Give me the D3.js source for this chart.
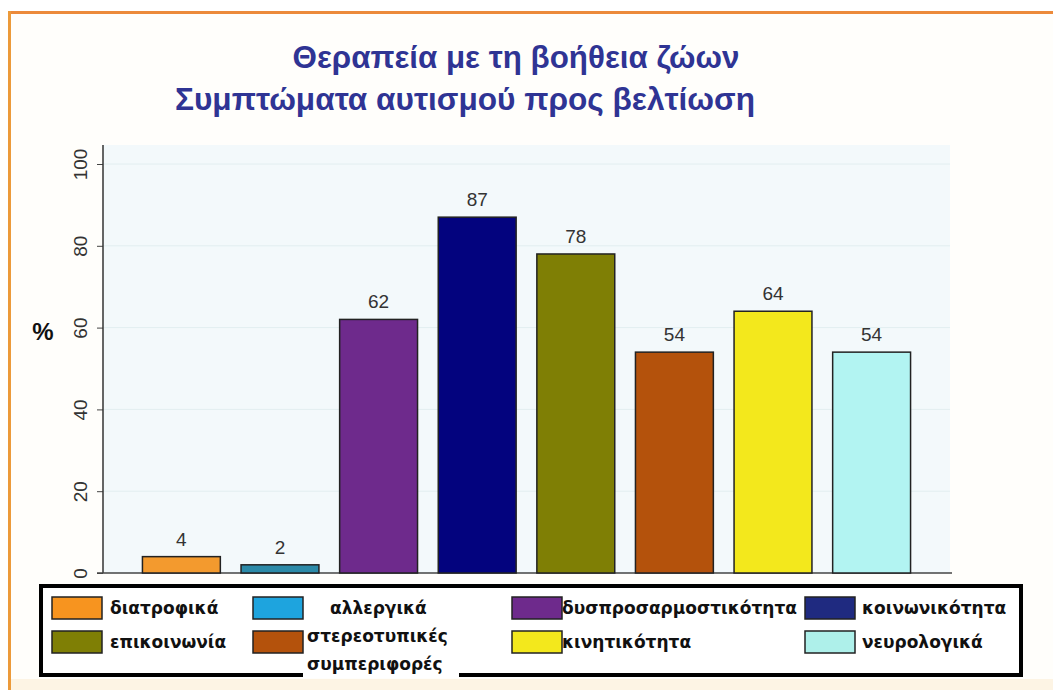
<!DOCTYPE html>
<html>
<head>
<meta charset="utf-8">
<script src="https://cdn.jsdelivr.net/npm/d3@7"></script>
<style>
  body { margin: 0; background: #fff; }
  svg { display: block; }
</style>
</head>
<body>
<div id="chart"></div>
<script>
// data
const categories = ["διατροφικά", "αλλεργικά", "δυσπροσαρμοστικότητα", "κοινωνικότητα",
                    "επικοινωνία", "στερεοτυπικές συμπεριφορές", "κινητικότητα", "νευρολογικά"];
const values = [4, 2, 62, 87, 78, 54, 64, 54];
const barColors = ["#f39a2e", "#2c8aa8", "#6e2a8c", "#03037e", "#7f7f05", "#b4520c", "#f3e81c", "#b2f4f2"];
const legendColors = ["#f7941f", "#1ea4de", "#6e2a8c", "#1f2a80", "#7f7f05", "#b4520c", "#f3e81c", "#aef0ea"];
const yTicks = [0, 20, 40, 60, 80, 100];
const titleLines = ["Θεραπεία με τη βοήθεια ζώων", "Συμπτώματα αυτισμού προς βελτίωση"];

function drawChart() {
    const width = 1053;
    const height = 690;
    const plot = { left: 103, right: 950, top: 145, bottom: 573 };

    const svg = d3.select('#chart')
        .append('svg')
        .attr('width', width)
        .attr('height', height);

    // page frame: orange border top and left, cream strip at the bottom
    svg.append("rect").attr("x", 0).attr("y", 0).attr("width", width).attr("height", height).style("fill", "#fff");
    svg.append("rect").attr("x", 11).attr("y", 13).attr("width", width - 11).attr("height", height - 13).style("fill", "#fffefb");
    svg.append("rect").attr("x", 11).attr("y", 679).attr("width", width - 11).attr("height", 11).style("fill", "#fdf4e4");
    svg.append("rect").attr("x", 8).attr("y", 11).attr("width", width - 8).attr("height", 3).style("fill", "#ec8a3a");
    svg.append("rect").attr("x", 8).attr("y", 11).attr("width", 3).attr("height", height - 11).style("fill", "#ec9a3a");

    // titles (condensed look squeezed to the widths in the picture)
    const titleX = [516, 465];
    const titleY = [68, 110];
    const titleW = [447, 580];
    svg.selectAll(".title")
        .data(titleLines)
        .enter().append("text")
        .attr("class", "title")
        .attr("x", (d, i) => titleX[i])
        .attr("y", (d, i) => titleY[i])
        .attr("text-anchor", "middle")
        .attr("textLength", (d, i) => titleW[i])
        .attr("lengthAdjust", "spacingAndGlyphs")
        .style("font-family", "'Liberation Sans Narrow', 'Liberation Sans', Arial, sans-serif")
        .style("font-weight", "bold")
        .style("font-size", "31px")
        .style("fill", "#2f3494")
        .text(d => d);

    const x = d3.scaleBand()
        .domain(categories)
        .range([plot.left, plot.right])
        .paddingInner(0.21)
        .paddingOuter(0.4);

    const y = d3.scaleLinear()
        .domain([0, 100])
        .range([plot.bottom, 164]);

    // plot background
    svg.append("rect")
        .attr("x", plot.left)
        .attr("y", plot.top)
        .attr("width", plot.right - plot.left)
        .attr("height", plot.bottom - plot.top)
        .style("fill", "#f3f9fb");

    // gridlines
    svg.selectAll(".grid")
        .data(yTicks.filter(d => d > 0))
        .enter().append("line")
        .attr("class", "grid")
        .attr("x1", plot.left).attr("x2", plot.right)
        .attr("y1", d => y(d)).attr("y2", d => y(d))
        .style("stroke", "#e2eef0")
        .style("stroke-width", "1px");

    // y axis
    const yAxis = svg.append("g")
        .attr("transform", `translate(${plot.left},0)`)
        .call(d3.axisLeft(y).tickValues(yTicks).tickSize(6).tickSizeOuter(0));
    yAxis.select(".domain").remove();
    yAxis.selectAll(".tick line").style("stroke", "#444");
    yAxis.selectAll(".tick text")
        .attr("x", 0).attr("dy", 0)
        .attr("transform", `translate(-16,0) rotate(-90)`)
        .attr("text-anchor", "middle")
        .style("font-family", "'Liberation Sans', Arial, sans-serif")
        .style("font-size", "19px")
        .style("fill", "#333");
    svg.append("line")
        .attr("x1", plot.left).attr("x2", plot.left)
        .attr("y1", plot.top).attr("y2", plot.bottom)
        .style("stroke", "#333").style("stroke-width", "1.5px");
    svg.append("line")
        .attr("x1", plot.left - 6).attr("x2", plot.right + 2)
        .attr("y1", plot.bottom).attr("y2", plot.bottom)
        .style("stroke", "#444").style("stroke-width", "1.5px");

    svg.append("text")
        .attr("x", 43).attr("y", 340)
        .attr("text-anchor", "middle")
        .style("font-family", "'Liberation Sans', Arial, sans-serif")
        .style("font-weight", "bold")
        .style("font-size", "24px")
        .style("fill", "#111")
        .text("%");

    // bars
    const data = categories.map((c, i) => ({ name: c, value: values[i], color: barColors[i] }));
    svg.selectAll(".bar")
        .data(data)
        .enter().append("rect")
        .attr("class", "bar")
        .attr("x", d => x(d.name))
        .attr("y", d => y(d.value))
        .attr("width", x.bandwidth())
        .attr("height", d => y(0) - y(d.value))
        .style("fill", d => d.color)
        .style("stroke", "#222")
        .style("stroke-width", "1.5px");

    svg.selectAll(".value")
        .data(data)
        .enter().append("text")
        .attr("class", "value")
        .attr("x", d => x(d.name) + x.bandwidth() / 2)
        .attr("y", d => y(d.value) - 11)
        .attr("text-anchor", "middle")
        .style("font-family", "'Liberation Sans', Arial, sans-serif")
        .style("font-size", "19px")
        .style("fill", "#333")
        .text(d => d.value);

    // legend
    svg.append("rect")
        .attr("x", 41).attr("y", 586)
        .attr("width", 980).attr("height", 89)
        .style("fill", "#fff")
        .style("stroke", "#000")
        .style("stroke-width", "4px");

    // the two-line label sits on a white patch that covers the frame
    svg.append("rect")
        .attr("x", 303).attr("y", 654).attr("width", 156).attr("height", 24)
        .style("fill", "#fff");

    const swatchX = [52, 253, 512, 805];
    const labelX = [110, 330, 562, 862];
    const rowY = [597, 631];
    const legend = svg.selectAll(".legend")
        .data(data)
        .enter().append("g")
        .attr("class", "legend");

    legend.append("rect")
        .attr("x", (d, i) => swatchX[i % 4])
        .attr("y", (d, i) => rowY[Math.floor(i / 4)])
        .attr("width", 50).attr("height", 22)
        .style("fill", (d, i) => legendColors[i])
        .style("stroke", "#222")
        .style("stroke-width", "1.5px");

    legend.each(function (d, i) {
        const g = d3.select(this);
        const words = i === 5 ? d.name.split(" ") : [d.name];
        const baseY = rowY[Math.floor(i / 4)] + 17 + (i === 5 ? -6 : 0);
        const lx = i === 5 ? 307 : labelX[i % 4];
        words.forEach((w, k) => {
            g.append("text")
                .attr("x", lx)
                .attr("y", baseY + k * 28)
                .style("font-family", "'DejaVu Sans', Verdana, sans-serif")
                .style("font-weight", "bold")
                .style("font-size", "17px")
                .style("fill", "#111")
                .text(w);
        });
    });
}

document.addEventListener('DOMContentLoaded', drawChart);
</script>
</body>
</html>
